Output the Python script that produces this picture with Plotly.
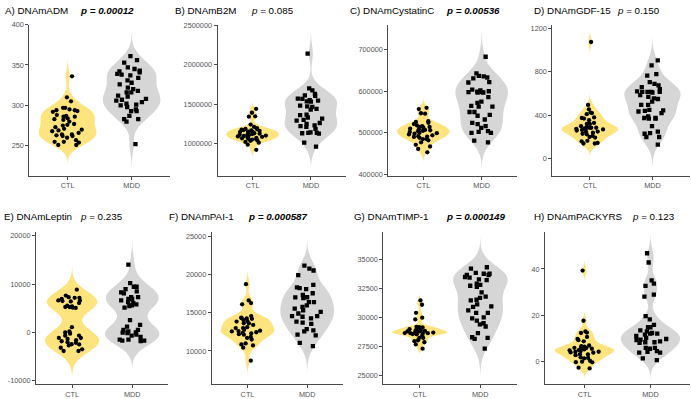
import numpy as np
import plotly.graph_objects as go

# ---------------- data ----------------
categories = ["CTL", "MDD"]
panel_names = ["A) DNAmADM", "B) DNAmB2M", "C) DNAmCystatinC", "D) DNAmGDF-15",
               "E) DNAmLeptin", "F) DNAmPAI-1", "G) DNAmTIMP-1", "H) DNAmPACKYRS"]
p_values = ["0.00012", "0.085", "0.00536", "0.150", "0.235", "0.000587", "0.000149", "0.123"]
significant = [True, False, True, False, False, True, True, False]

ctl_adm = [336, 310, 305, 297, 297, 294, 294, 293, 295, 292, 286, 287, 288, 286, 284, 283, 282, 280,
           277, 276, 275, 273, 269, 271, 270, 268, 266, 264, 264, 263, 262, 260, 262, 257, 255, 254,
           255, 251, 251]
mdd_adm = [361, 356, 353, 347, 345, 343, 342, 341, 339, 338, 337, 334, 331, 328, 326, 322, 320, 318,
           316, 316, 312, 311, 308, 307, 306, 304, 302, 301, 300, 298, 295, 293, 293, 287, 283, 283,
           280, 252]

ctl_b2m = [1440000, 1390000, 1345000, 1340000, 1240000, 1210000, 1195000, 1185000, 1180000, 1175000,
           1170000, 1165000, 1160000, 1150000, 1150000, 1145000, 1140000, 1130000, 1125000, 1120000,
           1115000, 1110000, 1105000, 1100000, 1095000, 1090000, 1085000, 1075000, 1070000, 1065000,
           1060000, 1055000, 1050000, 1040000, 1035000, 1020000, 1010000, 985000, 920000]
mdd_b2m = [2140000, 1700000, 1675000, 1630000, 1610000, 1605000, 1570000, 1565000, 1550000, 1545000,
           1530000, 1535000, 1470000, 1480000, 1465000, 1440000, 1430000, 1365000, 1360000, 1330000,
           1315000, 1300000, 1290000, 1250000, 1260000, 1230000, 1210000, 1220000, 1185000, 1135000,
           1130000, 1140000, 1125000, 1135000, 1010000, 960000]

ctl_cys = [560000, 557000, 547000, 546000, 528000, 524000, 526000, 521000, 518000, 516000, 514000,
           513000, 514000, 508000, 506000, 507000, 505000, 504000, 502000, 500000, 499000, 498000,
           496000, 494000, 492000, 491000, 490000, 488000, 485000, 485000, 482000, 477000, 471000,
           467000, 461000, 453000, 510000]
mdd_cys = [683000, 643000, 637000, 636000, 633000, 631000, 622000, 621000, 604000, 602000, 600000,
           598000, 599000, 598000, 597000, 597000, 586000, 575000, 572000, 565000, 563000, 563000,
           550000, 550000, 543000, 541000, 532000, 524000, 521000, 516000, 512000, 504000, 502000,
           500000, 500000, 481000, 477000]

ctl_gdf = [1075, 495, 455, 420, 425, 410, 380, 375, 370, 355, 330, 320, 320, 300, 285, 290, 285, 280,
           275, 270, 285, 270, 250, 265, 250, 260, 240, 225, 210, 195, 200, 230, 165, 160, 145, 140, 140]
mdd_gdf = [905, 860, 765, 780, 705, 690, 675, 660, 640, 615, 620, 615, 615, 610, 615, 570, 585, 555,
           550, 525, 495, 495, 450, 440, 445, 435, 420, 375, 375, 390, 370, 370, 300, 250, 230, 235,
           200, 200, 130]

ctl_lep = [8830, 7610, 7270, 7140, 7140, 6930, 6600, 6400, 6460, 6600, 6050, 5380, 5200, 5500, 5040,
           5240, 5100, 1040, 160, -40, -310, -700, -720, -1190, -1200, -1390, -1660, -1870, -2070,
           -2200, -2540, -2500, -2750, -3220, -3560, -3900, -3900]
mdd_lep = [14040, 10180, 9440, 9440, 8960, 8080, 8490, 8290, 7270, 6930, 6900, 6600, 7270, 6260, 6050,
           5780, 5580, 5440, 5110, 2530, 1520, 1180, 500, 160, -180, -40, 500, -100, -510, -720,
           -1530, -1730, -1730, -1530, -990, -1860]

ctl_pai = [18740, 16610, 16270, 16100, 14560, 14350, 14260, 14300, 14200, 14050, 13840, 13900, 13630,
           13410, 13600, 12990, 13120, 12990, 12770, 12650, 12560, 12600, 12350, 12450, 12130, 12200,
           12300, 11710, 11840, 11500, 10860, 10990, 10730, 10430, 8730]
mdd_pai = [21170, 20780, 20530, 19930, 18650, 18310, 18230, 18100, 17550, 17330, 17030, 17000, 16910,
           16400, 16400, 15970, 15760, 15540, 15330, 15120, 14900, 14560, 14480, 14550, 14260, 13840,
           13540, 13700, 12690, 12860, 12560, 12130, 12050, 11070, 10640]

ctl_timp = [31480, 31110, 30410, 29990, 29840, 29170, 29140, 29200, 29100, 29150, 28940, 29000, 28800,
            28850, 28800, 28900, 28660, 28660, 28700, 28750, 28600, 28580, 28650, 28550, 28440, 28240,
            28250, 28040, 27960, 27870, 27680, 27310, 28600, 28800]
mdd_timp = [34350, 34240, 33870, 33790, 33680, 33510, 33680, 33790, 33450, 33230, 33310, 32940, 32750,
            32830, 32660, 32180, 31820, 31700, 31480, 31540, 31140, 30970, 30920, 30630, 30410, 30400,
            30010, 29730, 29930, 29510, 29420, 29230, 28660, 28240, 28300, 28160, 27310]

ctl_pack = [39.3, 17.6, 12.3, 12.5, 13.0, 10.6, 9.7, 8.7, 9.2, 6.9, 6.6, 6.4, 5.9, 5.5, 5.8, 5.9, 4.9,
            5.2, 4.5, 4.8, 4.1, 3.8, 3.9, 4.2, 3.1, 2.7, 3.0, 1.8, 1.3, 1.5, 0.3, -0.4, -0.1, -0.3,
            -2.7, -3.0]
mdd_pack = [46.8, 42.8, 35.1, 32.7, 33.7, 28.0, 28.9, 19.6, 18.2, 15.8, 14.8, 14.8, 13.4, 13.0, 12.3,
            12.0, 11.6, 12.0, 10.2, 11.0, 9.4, 9.2, 9.7, 8.7, 8.0, 8.3, 8.3, 5.9, 5.9, 5.5, 3.8, 3.8,
            4.5, 4.1, 1.3, 0.6]

ctl_series = [ctl_adm, ctl_b2m, ctl_cys, ctl_gdf, ctl_lep, ctl_pai, ctl_timp, ctl_pack]
mdd_series = [mdd_adm, mdd_b2m, mdd_cys, mdd_gdf, mdd_lep, mdd_pai, mdd_timp, mdd_pack]

tick_values = [
    [250, 300, 350, 400],
    [1000000, 1500000, 2000000, 2500000],
    [400000, 500000, 600000, 700000],
    [0, 400, 800, 1200],
    [-10000, 0, 10000, 20000],
    [10000, 15000, 20000, 25000],
    [25000, 27500, 30000, 32500, 35000],
    [0, 20, 40],
]

# ---------------- layout helpers ----------------
W, H = 691, 399
y_ranges = [[213, 400], [591000, 2509000], [396700, 760500], [-157, 1236],
            [-10800, 20870], [5650, 25600], [24240, 37420], [-9.85, 56.1]]
x_px = [(29.3, 170), (217.5, 346), (388.3, 516.7), (552.3, 690),
        (36, 168.3), (211.7, 343), (383.3, 516.7), (545, 690)]
row_px = [(21, 175.7), (233, 389)]
title_px = [(2.7, 77.7), (173.3, 249), (348.3, 444.3), (531.7, 615),
            (1.7, 77.7), (166.5, 246), (351.7, 444.3), (531.7, 630)]
title_y_px = [7, 217.5]

colors = {"CTL": "#FDE47F", "MDD": "#D6D6D6"}
symbols = {"CTL": "circle", "MDD": "square"}
FONT = "Liberation Sans, Arial, sans-serif"


def nrd0(v):
    v = np.asarray(v, dtype=float)
    sd = v.std(ddof=1)
    q75, q25 = np.percentile(v, [75, 25])
    lo = min(sd, (q75 - q25) / 1.34)
    if lo <= 0:
        lo = sd
    return 0.9 * lo * len(v) ** -0.2


fig = go.Figure()
layout = dict(
    width=W, height=H, margin=dict(l=0, r=0, t=0, b=0),
    paper_bgcolor="white", plot_bgcolor="white", showlegend=False,
    font=dict(family=FONT),
)
annotations = []

for i in range(8):
    k = i + 1
    row = 0 if i < 4 else 1
    xa = "x" if k == 1 else f"x{k}"
    ya = "y" if k == 1 else f"y{k}"
    for cat, vals in zip(categories, [ctl_series[i], mdd_series[i]]):
        bw = nrd0(vals)
        fig.add_trace(go.Violin(
            x=[cat] * len(vals), y=vals, name=cat, xaxis=xa, yaxis=ya,
            fillcolor=colors[cat], line=dict(width=0, color=colors[cat]),
            opacity=1, points="all", pointpos=0, jitter=0.6,
            marker=dict(symbol=symbols[cat], size=4.3, color="black", line=dict(width=0)),
            bandwidth=bw, spanmode="manual", span=[min(vals) - 3 * bw, max(vals) + 3 * bw],
            scalegroup=f"g{k}", scalemode="width", width=0.9,
            box_visible=False, meanline_visible=False, hoverinfo="y", showlegend=False,
        ))
    x0, x1 = x_px[i]
    top, bot = row_px[row]
    axis_common = dict(showline=True, linecolor="#4a4a4a", linewidth=1, ticks="outside",
                       ticklen=3, tickcolor="#4a4a4a", tickwidth=1, showgrid=False,
                       zeroline=False, tickfont=dict(size=7.3, color="#555555", family=FONT))
    layout["xaxis" if k == 1 else f"xaxis{k}"] = dict(
        domain=[x0 / W, x1 / W], anchor=ya, type="category",
        categoryorder="array", categoryarray=categories, range=[-0.6, 1.6], **axis_common)
    tv = tick_values[i]
    layout["yaxis" if k == 1 else f"yaxis{k}"] = dict(
        domain=[(H - bot) / H, (H - top) / H], anchor=xa, range=y_ranges[i],
        tickvals=tv, ticktext=[str(t) for t in tv], **axis_common)

    tx, px_ = title_px[i]
    ty = 1 - title_y_px[row] / H
    annotations.append(dict(text=panel_names[i], x=tx / W, y=ty, xref="paper", yref="paper",
                            xanchor="left", yanchor="middle", showarrow=False,
                            font=dict(size=9.8, color="black", family=FONT)))
    if significant[i]:
        ptxt = f"<b><i>p = {p_values[i]}</i></b>"
    else:
        ptxt = f"<i>p</i> = {p_values[i]}"
    annotations.append(dict(text=ptxt, x=px_ / W, y=ty, xref="paper", yref="paper",
                            xanchor="left", yanchor="middle", showarrow=False,
                            font=dict(size=9.8, color="black", family=FONT)))

layout["annotations"] = annotations
fig.update_layout(**layout)
fig.write_html("out.html", config={"displayModeBar": False},
               post_script="document.body.style.margin='0';document.body.style.padding='0';")
